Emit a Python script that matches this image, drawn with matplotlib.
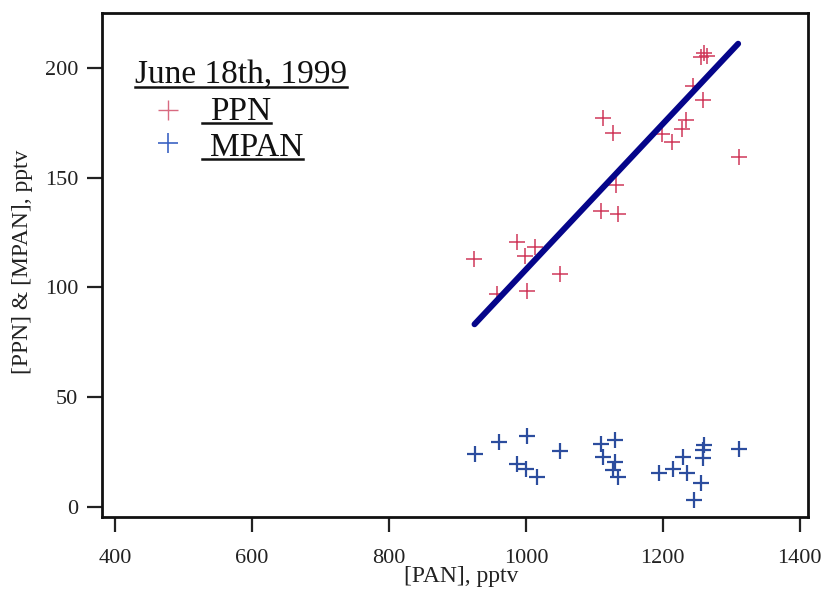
import matplotlib
matplotlib.use("Agg")
import matplotlib.pyplot as plt
from matplotlib.lines import Line2D

plt.rcParams['font.family'] = ['Liberation Serif', 'DejaVu Serif']

# ---------------- data ----------------
ppn_pan = [924, 958, 987, 998, 1001, 1014, 1050, 1110, 1134, 1131, 1112, 1127,
           1199, 1213, 1228, 1234, 1244, 1259, 1256, 1260, 1264, 1311]
ppn_val = [113, 97, 120.5, 114.5, 98.5, 118.6, 106, 135, 133.6, 146.5, 177, 170.5,
           169.8, 166.1, 172.2, 176.3, 191.8, 185.4, 205, 207, 205.5, 159.6]

mpan_pan = [925, 961, 1001, 987, 1000, 1016, 1050, 1110, 1130, 1113, 1130, 1127,
            1135, 1195, 1215, 1230, 1236, 1256, 1245, 1259, 1260, 1259, 1311]
mpan_val = [24, 29.5, 32.5, 19.6, 17.3, 13.8, 25.5, 28.7, 30.5, 22.9, 20.6, 16.9,
            13.8, 15.3, 17.3, 22.9, 15.3, 11, 3.2, 26, 28.2, 22.2, 26.3]

fit_pan = [925, 1310]
fit_val = [83.2, 211]

title_text = "June 18th, 1999"
series_names = ["PPN", "MPAN"]
xticks = [400, 600, 800, 1000, 1200, 1400]
yticks = [0, 50, 100, 150, 200]

ppn_color = '#d0385a'
mpan_color = '#2c4d9e'
ppn_leg_color = '#d86a80'
mpan_leg_color = '#3c64c4'

# ---------------- figure ----------------
fig = plt.figure(figsize=(8.27, 5.89), dpi=100)
ax = fig.add_axes([102/827, 1-517/589, 706/827, 504/589])

ax.plot(fit_pan, fit_val, color='#05058a', lw=4.3, solid_capstyle='round', zorder=3)
ax.plot(ppn_pan, ppn_val, linestyle='none', marker='+', ms=11, mew=1.1,
        color=ppn_color, zorder=2)
ax.plot(mpan_pan, mpan_val, linestyle='none', marker='+', ms=11, mew=1.6,
        color=mpan_color, zorder=4)

ax.set_xlim(381, 1412)
ax.set_ylim(-4.6, 225)
ax.set_xticks(xticks)
ax.set_yticks(yticks)
ax.tick_params(direction='out', length=11, width=1.6, labelsize=16, pad=6,
               colors='#222222')
ax.tick_params(axis='x', pad=12)
for s in ax.spines.values():
    s.set_linewidth(2)
    s.set_color('#111111')

ax.set_xlabel("[PAN], pptv", fontsize=17, color='#222222')
ax.xaxis.set_label_coords(0.509, -0.097)
ax.set_ylabel("[PPN] & [MPAN], pptv", fontsize=17, color='#222222')
ax.yaxis.set_label_coords(-0.098, 0.507)

# ---------------- custom legend ----------------
def ax_xy(px, py):
    return ((px - 102) / 706, (517 - py) / 504)

t_title = ax.text(*ax_xy(135, 83), title_text, transform=ax.transAxes,
                  fontsize=24, va='baseline', ha='left', color='#111111')
t_ppn = ax.text(*ax_xy(210, 120), series_names[0], transform=ax.transAxes,
                fontsize=24, va='baseline', ha='left', color='#111111')
t_mpan = ax.text(*ax_xy(210, 156.5), series_names[1], transform=ax.transAxes,
                 fontsize=24, va='baseline', ha='left', color='#111111')

ax.plot(*ax_xy(168, 110), transform=ax.transAxes, marker='+', ms=15, mew=1.0,
        color=ppn_leg_color, clip_on=False)
ax.plot(*ax_xy(168, 143), transform=ax.transAxes, marker='+', ms=15, mew=1.2,
        color=mpan_leg_color, clip_on=False)

fig.canvas.draw()
renderer = fig.canvas.get_renderer()
inv = ax.transAxes.inverted()
for t, py, extra in [(t_title, 86.5, 0), (t_ppn, 122.5, 8), (t_mpan, 158.5, 8)]:
    bb = t.get_window_extent(renderer)
    x0 = inv.transform((bb.x0 - extra, 0))[0]
    x1 = inv.transform((bb.x1, 0))[0]
    yy = ax_xy(0, py)[1]
    ax.add_line(Line2D([x0, x1], [yy, yy], transform=ax.transAxes, color='#111111',
                       lw=1.8, clip_on=False))

fig.savefig("out.png", dpi=100)
